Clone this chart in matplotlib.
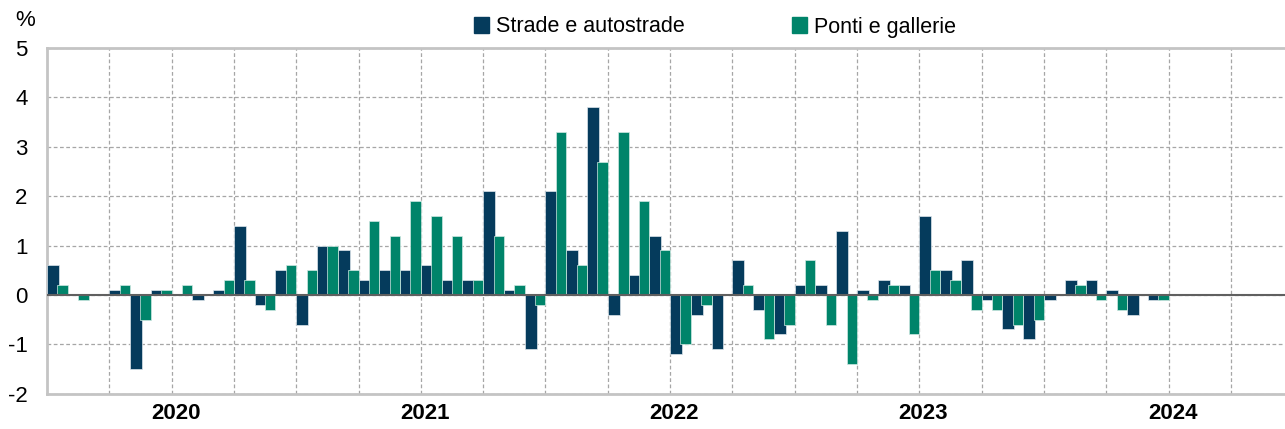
import matplotlib
matplotlib.use("Agg")
import matplotlib.pyplot as plt
from matplotlib.patches import Patch
import numpy as np

plt.rcParams['font.family'] = ['Liberation Sans', 'DejaVu Sans']

# monthly values, Jan 2020 - Jun 2024
strade = [0.6, 0, 0, 0.1, -1.5, 0.1, 0, -0.1, 0.1, 1.4, -0.2, 0.5,
          -0.6, 1.0, 0.9, 0.3, 0.5, 0.5, 0.6, 0.3, 0.3, 2.1, 0.1, -1.1,
          2.1, 0.9, 3.8, -0.4, 0.4, 1.2, -1.2, -0.4, -1.1, 0.7, -0.3, -0.8,
          0.2, 0.2, 1.3, 0.1, 0.3, 0.2, 1.6, 0.5, 0.7, -0.1, -0.7, -0.9,
          -0.1, 0.3, 0.3, 0.1, -0.4, -0.1]
ponti = [0.2, -0.1, 0, 0.2, -0.5, 0.1, 0.2, 0, 0.3, 0.3, -0.3, 0.6,
         0.5, 1.0, 0.5, 1.5, 1.2, 1.9, 1.6, 1.2, 0.3, 1.2, 0.2, -0.2,
         3.3, 0.6, 2.7, 3.3, 1.9, 0.9, -1.0, -0.2, 0, 0.2, -0.9, -0.6,
         0.7, -0.6, -1.4, -0.1, 0.2, -0.8, 0.5, 0.3, -0.3, -0.3, -0.6, -0.5,
         0, 0.2, -0.1, -0.3, 0, -0.1]
years = ["2020", "2021", "2022", "2023", "2024"]
yticks = [-2, -1, 0, 1, 2, 3, 4, 5]

c_dark = '#053B5C'
c_green = '#00846A'
c_grid = '#A6A6A6'
c_axis = '#C4C4C4'

fig = plt.figure(figsize=(12.85, 4.29), dpi=100)
ax = fig.add_axes([47/1285, 1-393.7/429, 1-47/1285, (393.7-48)/429])

x = np.arange(len(strade))
ax.bar(x, strade, width=0.57, align='edge', color=c_dark,
       edgecolor='#DDE6EC', linewidth=0.5, zorder=3)
ax.bar(x+0.5, ponti, width=0.5, align='edge', color=c_green,
       edgecolor='#CFE9E2', linewidth=0.5, zorder=4)

ax.set_xlim(0, (1285-47)/20.77)
ax.set_ylim(-2, 5)
ax.set_yticks(yticks)
ax.set_yticklabels([str(v) for v in yticks], fontsize=16)
ax.tick_params(axis='y', length=0, pad=14)

# quarter gridlines, year labels in the middle of each year
ax.set_xticks(np.arange(3, 60, 3))
ax.set_xticklabels([])
ax.set_xticks(np.arange(len(years))*12 + 6.2, minor=True)
ax.set_xticklabels(years, minor=True, fontsize=16, fontweight='bold')
ax.tick_params(axis='x', which='both', length=0, pad=7)
ax.grid(True, which='major', color=c_grid, linestyle=(0, (3, 2)), linewidth=0.9, zorder=0)

ax.axhline(0, color='#606060', linewidth=1.5, zorder=5)

for s in ['left', 'top', 'bottom']:
    ax.spines[s].set_color(c_axis)
    ax.spines[s].set_linewidth(2)
ax.spines['right'].set_visible(False)

fig.text(15/1285, 1-21/429, '%', fontsize=16, va='center', ha='left')

handles = [Patch(color=c_dark, label='Strade e autostrade'),
           Patch(color=c_green, label='Ponti e gallerie')]
fig.legend(handles=handles, loc='center', bbox_to_anchor=(715/1285, 1-27/429),
           ncol=2, frameon=False, fontsize=15.5, handlelength=0.7, handleheight=0.7,
           handletextpad=0.3, columnspacing=5.0)

fig.savefig("out.png", dpi=100)
